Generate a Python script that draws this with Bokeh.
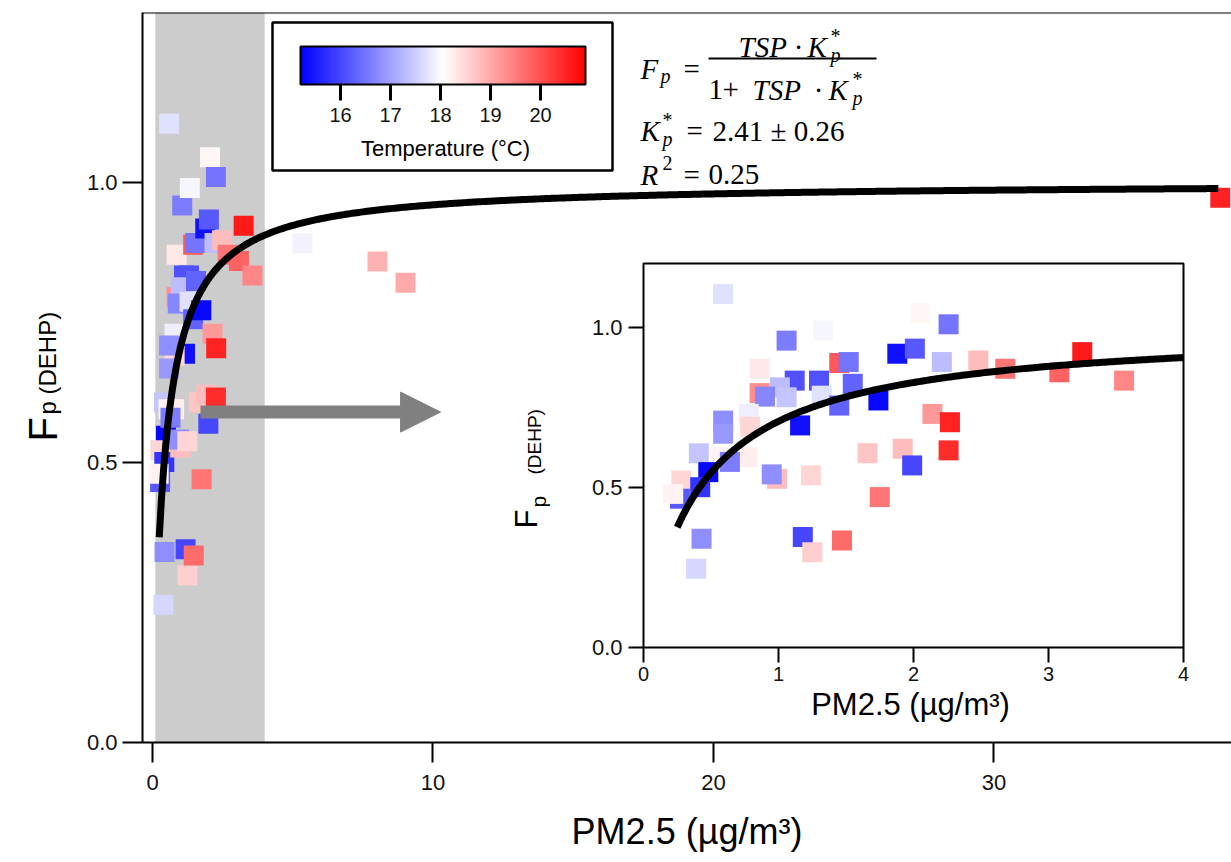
import numpy as np
from bokeh.plotting import figure
from bokeh.models import (Range1d, LinearColorMapper, ColorBar, FixedTicker,
                          NumeralTickFormatter, BoxAnnotation, Label, Arrow,
                          NormalHead, Span, ColumnDataSource)
from bokeh.core.properties import value
from bokeh.embed import file_html
from bokeh.resources import INLINE

# ---------------- data ----------------
pm25 = [0.59, 1.06, 1.33, 0.86, 1.45, 1.52, 1.88, 2.01, 1.12, 1.30,
        0.86, 1.01, 1.06, 0.90, 1.32, 1.55, 1.45, 1.74, 1.16, 0.78,
        0.79, 0.59, 0.59, 0.41, 0.57, 0.77, 1.66, 1.92, 1.99, 0.48,
        0.28, 0.42, 0.27, 0.22, 0.99, 0.95, 1.24, 1.75, 0.43, 0.39,
        1.18, 1.25, 1.47, 0.64, 2.05, 2.26, 2.21, 2.48, 2.68, 3.25,
        3.08, 3.56, 2.14, 2.27, 2.26, 5.35, 8.02, 9.02, 38.07]
fp = [1.105, 0.959, 0.990, 0.871, 0.889, 0.892, 0.918, 0.934, 0.834, 0.834,
      0.795, 0.813, 0.782, 0.784, 0.787, 0.824, 0.756, 0.772, 0.694, 0.730,
      0.690, 0.709, 0.668, 0.607, 0.595, 0.595, 0.607, 0.621, 0.569, 0.548,
      0.522, 0.501, 0.465, 0.480, 0.527, 0.541, 0.538, 0.470, 0.340, 0.246,
      0.345, 0.298, 0.334, 0.580, 1.045, 1.010, 0.892, 0.897, 0.871, 0.923,
      0.860, 0.834, 0.730, 0.704, 0.616, 0.891, 0.859, 0.821, 0.973]
temp = [17.7, 16.6, 17.95, 18.3, 19.9, 16.5, 15.4, 16.2, 16.1, 16.1,
        19.3, 17.3, 17.4, 16.7, 17.7, 16.3, 16.3, 15.3, 15.4, 17.85,
        18.5, 16.8, 16.9, 17.4, 18.2, 18.25, 18.7, 18.8, 16.0, 15.3,
        18.5, 15.8, 16.2, 18.2, 18.8, 16.8, 18.5, 19.6, 16.8, 17.6,
        16.0, 18.6, 19.7, 16.6, 18.15, 16.5, 17.3, 18.8, 19.6, 20.6,
        19.8, 19.4, 19.2, 20.5, 20.4, 17.9, 18.9, 19.0, 20.5]

kp_star = 2.41           # fitted K_p* shown in the chart
temp_low, temp_high = 15.2, 20.9
main_xticks = [0, 10, 20, 30]
main_yticks = [0.0, 0.5, 1.0]
inset_xticks = [0, 1, 2, 3, 4]
inset_xtick_labels = ["0", "1", "2", "3", "4"]
inset_yticks = [0.0, 0.5, 1.0]
inset_ytick_labels = ["0.0", "0.5", "1.0"]
cbar_ticks = [16, 17, 18, 19, 20]

# ---------------- helpers ----------------
def bwr(n=256):
    cols = []
    for i in range(n):
        t = i / (n - 1)
        if t < 0.5:
            s = t / 0.5
            r = g = int(round(255 * s)); b = 255
        else:
            s = (t - 0.5) / 0.5
            r = 255; g = b = int(round(255 * (1 - s)))
        cols.append("#%02x%02x%02x" % (r, g, b))
    return cols

mapper = LinearColorMapper(palette=bwr(), low=temp_low, high=temp_high)

FL, FT = 142, 12          # frame left / top in page px
FW, FH = 1089, 730        # frame size
FB = FT + FH              # frame bottom (742)

p = figure(frame_width=FW, frame_height=FH,
           x_range=Range1d(-0.357, 38.47), y_range=Range1d(0, 1.3036),
           output_backend="svg", toolbar_location=None,
           min_border_left=FL, min_border_right=0, min_border_top=FT,
           min_border_bottom=120)
p.outline_line_color = None
p.grid.visible = False
p.background_fill_color = "white"
p.border_fill_color = "white"

# inset coordinate system (maps inset data onto its box inside the frame)
ix0, ix1, iy0, iy1 = 643, 1183, 647, 263   # inset box page px
ixs = (ix1 - ix0) / 4.0
iys = (iy0 - iy1) / 1.2
p.extra_x_ranges = {"ix": Range1d(0 - (ix0 - FL) / ixs, 4 + (FL + FW - ix1) / ixs)}
p.extra_y_ranges = {"iy": Range1d(0 - (FB - iy0) / iys, 1.2 + (iy1 - FT) / iys)}

# axes
for ax in p.xaxis:
    ax.ticker = FixedTicker(ticks=main_xticks)
    ax.axis_line_width = 2
    ax.major_tick_line_width = 2
    ax.major_tick_out = 20
    ax.major_tick_in = 0
    ax.minor_tick_line_color = None
    ax.major_label_text_font = "Liberation Sans"
    ax.major_label_text_font_size = "22px"
    ax.major_label_text_color = "#111111"
    ax.major_label_standoff = 12
    ax.axis_label = "PM2.5 (µg/m³)"
    ax.axis_label_text_font = "Liberation Sans"
    ax.axis_label_text_font_style = "normal"
    ax.axis_label_text_font_size = "36px"
    ax.axis_label_text_color = "black"
    ax.axis_label_standoff = 18
for ax in p.yaxis:
    ax.ticker = FixedTicker(ticks=main_yticks)
    ax.formatter = NumeralTickFormatter(format="0.0")
    ax.axis_line_width = 2
    ax.major_tick_line_width = 2
    ax.major_tick_out = 20
    ax.major_tick_in = 0
    ax.minor_tick_line_color = None
    ax.major_label_text_font = "Liberation Sans"
    ax.major_label_text_font_size = "22px"
    ax.major_label_text_color = "#111111"
    ax.major_label_standoff = 5

p.add_layout(Span(location=1.3036, dimension="width", line_color="black", line_width=2))

# shaded range
p.add_layout(BoxAnnotation(left=0.1, right=4.0, fill_color="#cccccc", fill_alpha=1.0,
                           line_color=None, level="underlay"))

src = ColumnDataSource(dict(x=pm25, y=fp, t=temp))
p.scatter("x", "y", source=src, marker="square", size=20,
          fill_color={"field": "t", "transform": mapper}, line_color=None)

fx = np.linspace(0.24, 38.0, 500)
p.line(fx, kp_star * fx / (1 + kp_star * fx), line_color="black", line_width=7)

# ---------------- inset ----------------
p.quad(left=[0], right=[4], bottom=[0], top=[1.2], fill_color="white",
       line_color="black", line_width=2, x_range_name="ix", y_range_name="iy")
mask = [i for i, v in enumerate(pm25) if v <= 4]
isrc = ColumnDataSource(dict(x=[pm25[i] for i in mask], y=[fp[i] for i in mask],
                             t=[temp[i] for i in mask]))
p.scatter("x", "y", source=isrc, marker="square", size=20,
          fill_color={"field": "t", "transform": mapper}, line_color=None,
          x_range_name="ix", y_range_name="iy")
gx = np.linspace(0.25, 4.0, 200)
p.line(gx, kp_star * gx / (1 + kp_star * gx), line_color="black", line_width=7,
       x_range_name="ix", y_range_name="iy")
tlx = 15 / ixs
tly = 15 / iys
p.segment(x0=inset_xticks, y0=[0] * 5, x1=inset_xticks, y1=[-tly] * 5,
          line_color="black", line_width=2, x_range_name="ix", y_range_name="iy")
p.segment(x0=[0] * 3, y0=inset_yticks, x1=[-tlx] * 3, y1=inset_yticks,
          line_color="black", line_width=2, x_range_name="ix", y_range_name="iy")
p.text(x=inset_xticks, y=[0] * 5, text=inset_xtick_labels, x_range_name="ix",
       y_range_name="iy", text_align="center", text_baseline="top", y_offset=19,
       text_font=value("Liberation Sans"), text_font_size=value("20px"), text_color="#111111")
p.text(x=[0] * 3, y=inset_yticks, text=inset_ytick_labels, x_range_name="ix",
       y_range_name="iy", text_align="right", text_baseline="middle", x_offset=-21,
       text_font=value("Liberation Sans"), text_font_size=value("22px"), text_color="#111111")

# ---------------- labels ----------------
def lab(px, py, text, size, font="Liberation Serif", style="normal", angle=0.0,
        align="left", baseline="alphabetic", place="center"):
    if place == "center":
        l = Label(x=px - FL, y=FB - py, x_units="screen", y_units="screen",
                  text=text, text_font=font, text_font_size=f"{size}px",
                  text_font_style=style, angle=angle, text_align=align,
                  text_baseline=baseline, text_color="black")
        p.add_layout(l)
    else:
        l = Label(x=px, y=py, x_units="canvas", y_units="canvas",
                  text=text, text_font=font, text_font_size=f"{size}px",
                  text_font_style=style, angle=angle, text_align=align,
                  text_baseline=baseline, text_color="black")
        p.add_layout(l, place)

R = np.pi / 2
# main y label  F_p (DEHP)  (outside the frame -> left panel, canvas units)
lab(42, 441, "F", 40, font="Liberation Sans", angle=R, place="left")
lab(47, 414, "p (DEHP)", 24, font="Liberation Sans", angle=R, place="left")
# inset y label
lab(526, 528, "F", 31, font="Liberation Sans", angle=R)
lab(538, 507, "p", 21, font="Liberation Sans", angle=R)
lab(534, 474, "(DEHP)", 19, font="Liberation Sans", angle=R)
# inset x label
lab(910, 704, "PM2.5 (µg/m³)", 31, font="Liberation Sans", align="center")

# equations
SZ = 29
SS = 20
lab(640, 68, "F", SZ, style="italic")
lab(660, 75, "p", SS, style="italic")
lab(683, 68, "=", SZ)
lab(738, 46, "TSP", SZ, style="italic")
lab(798, 46, "·", SZ, align="center")
lab(807, 46, "K", SZ, style="italic")
lab(830, 35, "*", SS)
lab(830, 54, "p", SS, style="italic")
p.add_layout(BoxAnnotation(left=708 - FL, right=876 - FL, top=FB - 57, bottom=FB - 59,
                           left_units="screen", right_units="screen",
                           top_units="screen", bottom_units="screen",
                           fill_color="black", fill_alpha=1, line_color=None))
lab(708, 89, "1", SZ)
lab(722, 89, "+", SZ)
lab(752, 89, "TSP", SZ, style="italic")
lab(818, 89, "·", SZ, align="center")
lab(828, 89, "K", SZ, style="italic")
lab(852, 78, "*", SS)
lab(852, 97, "p", SS, style="italic")

lab(640, 130, "K", SZ, style="italic")
lab(662, 119, "*", SS)
lab(662, 138, "p", SS, style="italic")
lab(686, 130, "=", SZ)
lab(712, 130, "2.41 ± 0.26", SZ)

lab(640, 174, "R", SZ, style="italic")
lab(662, 162, "2", SS)
lab(683, 174, "=", SZ)
lab(708, 174, "0.25", SZ)

# arrow
p.add_layout(Arrow(end=NormalHead(size=40, fill_color="#808080", line_color="#808080"),
                   x_start=1.71, y_start=0.590, x_end=10.27, y_end=0.590,
                   line_color="#808080", line_width=13))

# colour bar box
p.add_layout(BoxAnnotation(left=272 - FL, right=612 - FL, top=FB - 22, bottom=FB - 170,
                           left_units="screen", right_units="screen",
                           top_units="screen", bottom_units="screen",
                           fill_color="white", fill_alpha=1, line_color="black",
                           line_alpha=1, line_width=2.5))
cb = ColorBar(color_mapper=mapper, orientation="horizontal", location=(300 - FL, FB - 124),
              width=285, height=38, padding=0, ticker=FixedTicker(ticks=cbar_ticks),
              major_tick_in=0, major_tick_out=16, major_tick_line_color="black",
              major_tick_line_width=3, minor_tick_line_color=None,
              major_label_text_font="Liberation Sans", major_label_text_font_size="20px",
              major_label_text_color="#111111", label_standoff=7,
              bar_line_color="black", bar_line_width=2, border_line_color=None,
              background_fill_alpha=0)
p.add_layout(cb)
lab(445, 148, "Temperature (°C)", 22, font="Liberation Sans", align="center")

open("out.html", "w").write(file_html(p, INLINE))
